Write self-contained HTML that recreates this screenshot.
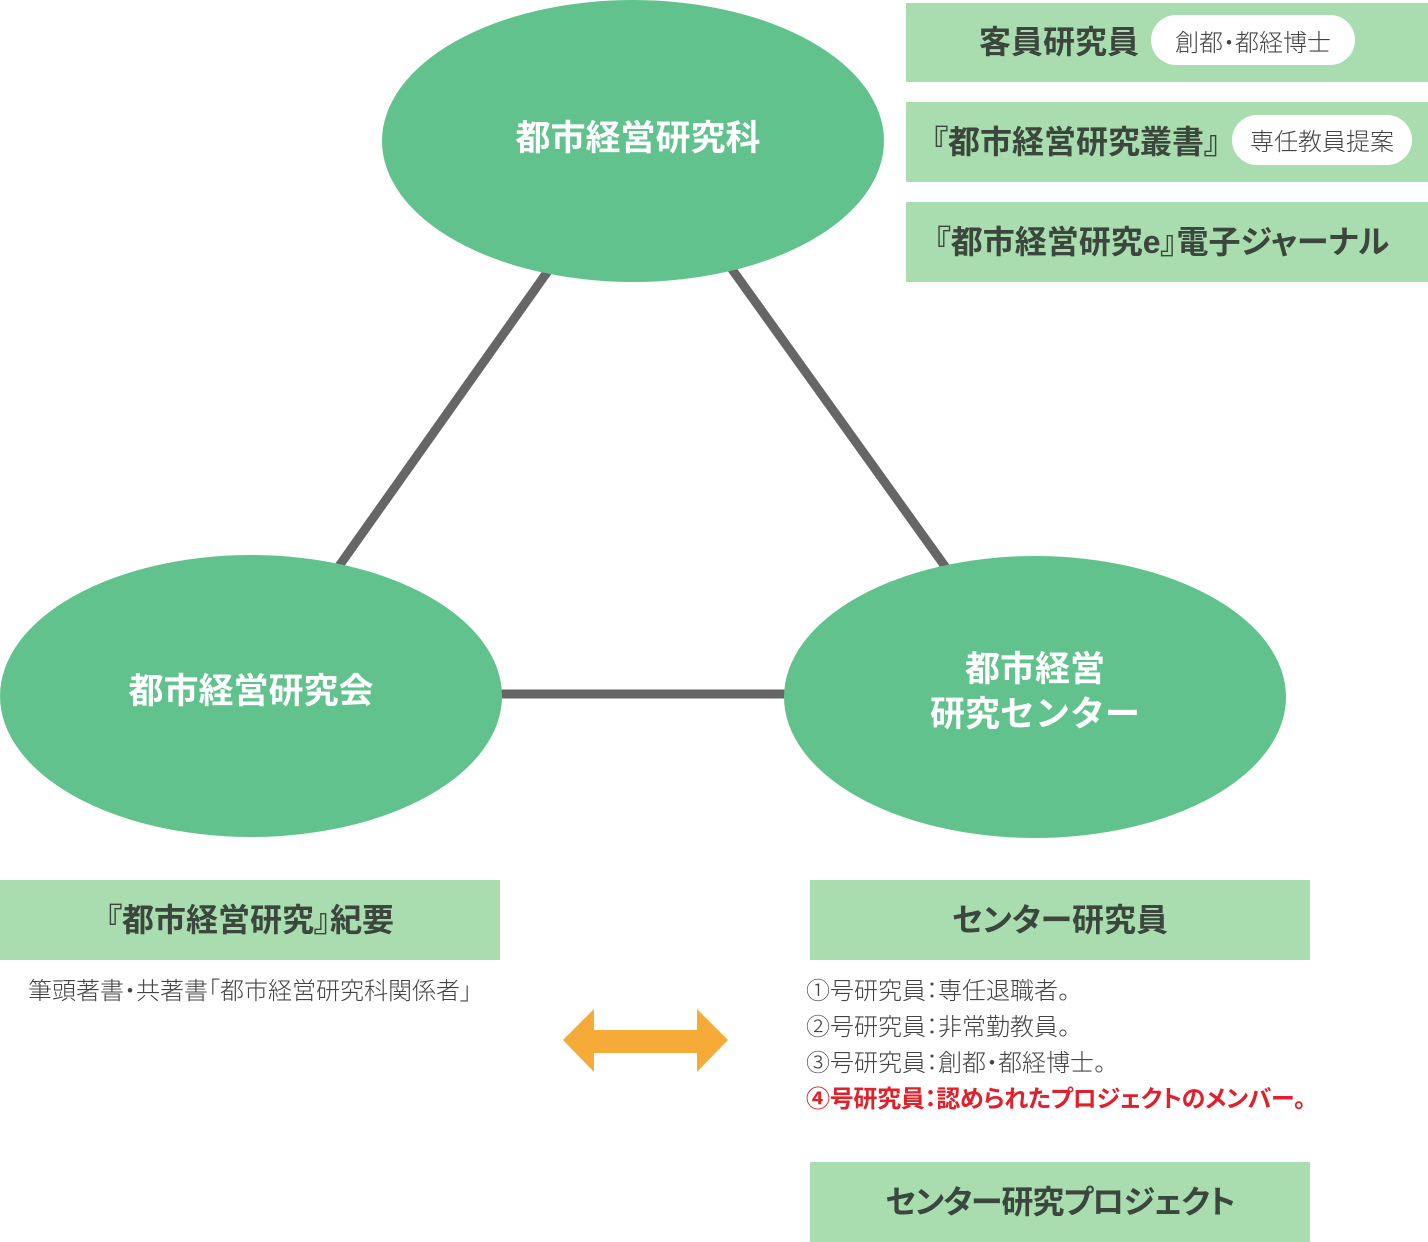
<!DOCTYPE html>
<html lang="ja">
<head>
<meta charset="utf-8">
<style>
  html, body { margin:0; padding:0; background:#fff; }
  body { width:1428px; height:1242px; position:relative; overflow:hidden;
         font-family:"Liberation Sans","Noto Sans CJK JP",sans-serif; }
  .abs { position:absolute; }
  .box { position:absolute; background:#a9dcae; display:flex; align-items:center; justify-content:center;
         color:#3b473d; font-weight:700; font-size:32px; white-space:nowrap; box-sizing:border-box; padding-bottom:5px;
         font-feature-settings:"palt"; }
  .pill { background:#fff; border-radius:25px; height:50px; display:flex; align-items:center; justify-content:center;
          font-size:24px; font-weight:300; color:#444; font-feature-settings:"palt"; }
  .etext { position:absolute; color:#fff; font-weight:700; font-size:35px; text-align:center; white-space:nowrap; }
  .list { position:absolute; left:806px; top:974px; font-size:24px; line-height:36px; color:#444; font-weight:300; white-space:nowrap;
          font-feature-settings:"palt"; }
  .red { color:#e0202a; font-weight:700; letter-spacing:-0.3px; }
</style>
</head>
<body>
<svg class="abs" style="left:0;top:0" width="1428" height="1242" viewBox="0 0 1428 1242">
  <g stroke="#666666" stroke-width="9" fill="none">
    <line x1="640" y1="141" x2="247" y2="696"/>
    <line x1="640" y1="141" x2="1038" y2="696"/>
    <line x1="251" y1="694" x2="1035" y2="694"/>
  </g>
  <ellipse cx="633" cy="141" rx="251" ry="141" fill="#62c28d"/>
  <ellipse cx="251" cy="696" rx="251" ry="141" fill="#62c28d"/>
  <ellipse cx="1035" cy="697" rx="251" ry="141" fill="#62c28d"/>
  <polygon points="563,1040 594,1009 594,1030 697,1030 697,1009 728,1040 697,1072 697,1053 594,1053 594,1072" fill="#f6ab38"/>
</svg>

<div class="etext" style="left:438px;top:115px;width:400px;line-height:48px;">都市経営研究科</div>
<div class="etext" style="left:51px;top:668px;width:400px;line-height:48px;">都市経営研究会</div>
<div class="etext" style="left:835px;top:647px;width:400px;line-height:45px;">都市経営<br>研究センター</div>

<div class="box" style="left:906px;top:3px;width:522px;height:79px;">
  <span>客員研究員</span>
  <div class="pill" style="width:204px;margin-left:12px;">創都・都経博士</div>
</div>
<div class="box" style="left:906px;top:102px;width:522px;height:80px;padding-left:10px;">
  <span>『都市経営研究叢書』</span>
  <div class="pill" style="width:180px;margin-left:12px;">専任教員提案</div>
</div>
<div class="box" style="left:906px;top:202px;width:522px;height:80px;padding-right:10px;">
  <span>『都市経営研究e』電子ジャーナル</span>
</div>

<div class="box" style="left:0px;top:880px;width:500px;height:80px;">『都市経営研究』紀要</div>
<div class="abs" style="left:28px;top:974px;font-size:24px;line-height:36px;color:#444;font-weight:300;white-space:nowrap;font-feature-settings:'palt';">筆頭著書・共著書「都市経営研究科関係者」</div>

<div class="box" style="left:810px;top:880px;width:500px;height:80px;">センター研究員</div>
<div class="list">
  <div>①号研究員：専任退職者。</div>
  <div>②号研究員：非常勤教員。</div>
  <div>③号研究員：創都・都経博士。</div>
  <div class="red">④号研究員：認められたプロジェクトのメンバー。</div>
</div>
<div class="box" style="left:810px;top:1162px;width:500px;height:80px;letter-spacing:-1px;">センター研究プロジェクト</div>
</body>
</html>
